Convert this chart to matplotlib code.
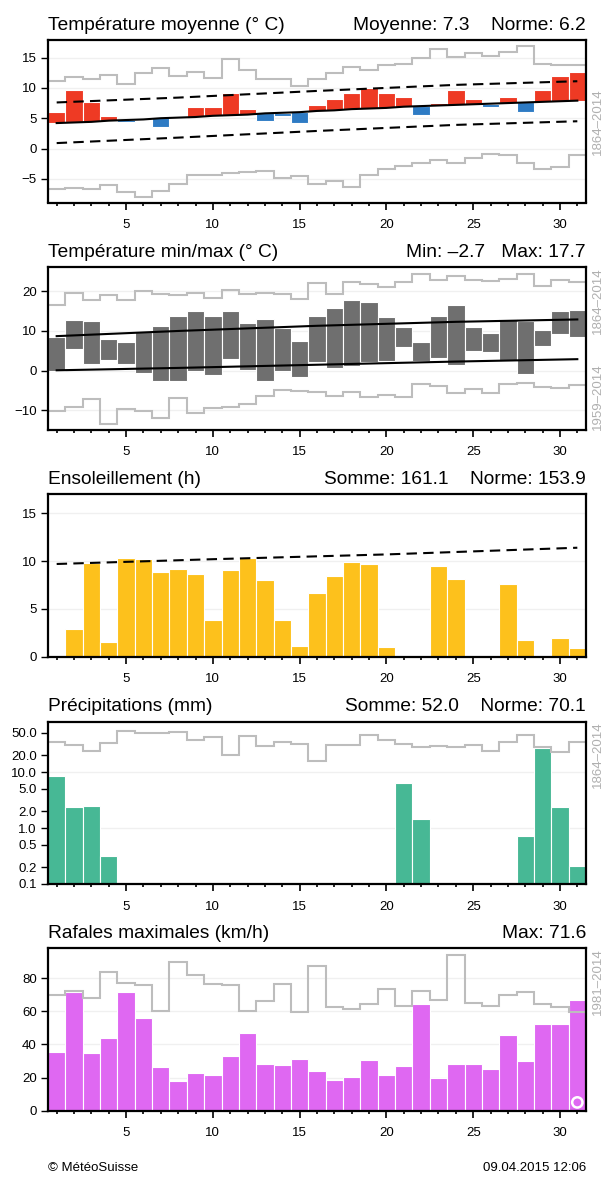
import numpy as np
import matplotlib
matplotlib.use("Agg")
import matplotlib.pyplot as plt
from matplotlib.ticker import FixedLocator, MultipleLocator, NullFormatter

plt.rcParams['font.family'] = ['Liberation Sans', 'DejaVu Sans']

days = np.arange(1, 32)

# ---- Panel 1: mean temperature
tmean = [6.0, 9.6, 7.7, 5.3, 4.3, 4.9, 3.5, 5.3, 6.9, 6.9, 9.1, 6.6, 4.5, 5.4, 4.2,
         7.2, 8.2, 9.2, 10.0, 9.2, 8.5, 5.5, 7.5, 9.7, 8.2, 6.9, 8.5, 6.1, 9.7, 12.0, 12.6]
tmean_norm = [4.2, 4.3, 4.4, 4.6, 4.7, 4.8, 5.0, 5.1, 5.2, 5.4, 5.5, 5.6, 5.8, 5.9, 6.0,
              6.2, 6.3, 6.5, 6.6, 6.7, 6.9, 7.0, 7.1, 7.2, 7.3, 7.4, 7.5, 7.6, 7.7, 7.8, 7.9]
band_days = [1, 8, 16, 24, 31]
tmean_hi = [7.6, 8.4, 9.5, 10.5, 11.1]
tmean_lo = [0.9, 1.8, 2.9, 3.9, 4.5]
tmean_rec_max = [11.1, 11.8, 11.4, 12.1, 10.7, 12.4, 13.2, 12.0, 12.6, 11.6, 14.7, 12.9, 11.5, 11.4, 10.3,
                 11.5, 12.4, 13.4, 12.9, 13.7, 14.0, 15.0, 16.4, 15.1, 15.7, 15.2, 15.9, 16.9, 14.0, 13.8, 13.8]
tmean_rec_min = [-6.6, -6.5, -6.7, -6.0, -7.1, -8.0, -7.0, -5.9, -4.3, -4.3, -4.0, -3.8, -3.7, -4.8, -4.6,
                 -5.9, -5.3, -6.4, -4.3, -3.4, -2.8, -2.4, -1.9, -2.4, -1.5, -0.9, -1.1, -2.4, -3.4, -3.0, -1.1]

# ---- Panel 2: min / max temperature
tmin = [-0.1, 5.5, 1.7, 2.8, 1.8, -0.7, -2.7, -2.5, -0.2, -1.0, 2.9, 0.3, -2.6, -0.2, -1.7,
        2.1, 0.8, 1.3, 2.1, 2.5, 5.9, 2.5, 3.1, 1.5, 4.9, 4.6, 2.8, -0.8, 6.3, 9.2, 8.6]
tmax = [8.6, 12.8, 12.4, 8.0, 7.2, 9.8, 11.2, 13.7, 15.0, 13.7, 15.0, 12.0, 12.9, 10.8, 7.6,
        13.7, 15.7, 17.7, 17.3, 13.6, 10.9, 7.1, 13.7, 16.6, 10.9, 9.4, 13.0, 12.4, 10.3, 15.1, 15.3]
tmax_norm = [8.7, 10.0, 11.3, 12.3, 12.9]
tmin_norm = [0.1, 0.7, 1.5, 2.3, 2.9]
tmax_rec = [16.6, 19.6, 17.8, 19.1, 17.9, 20.0, 19.3, 19.1, 19.6, 18.3, 20.2, 19.3, 19.6, 19.3, 18.1,
            22.0, 19.3, 22.3, 21.7, 21.0, 22.3, 24.4, 22.9, 23.8, 22.9, 22.7, 23.1, 24.4, 21.4, 22.9, 22.3]
tmin_rec = [-10.1, -9.2, -7.0, -13.3, -9.7, -10.1, -11.8, -6.9, -10.7, -9.5, -9.2, -8.4, -6.3, -4.9, -5.2,
            -5.3, -6.3, -5.3, -6.6, -6.1, -6.6, -3.4, -3.8, -5.6, -4.6, -5.7, -3.4, -3.1, -4.0, -4.4, -3.5]

# ---- Panel 3: sunshine
sun = [0.0, 2.9, 9.8, 1.5, 10.3, 10.2, 8.9, 9.2, 8.6, 3.8, 9.1, 10.3, 8.0, 3.8, 1.1,
       6.7, 8.4, 9.9, 9.7, 1.0, 0.0, 0.0, 9.5, 8.1, 0.0, 0.0, 7.6, 1.7, 0.0, 2.0, 0.9]
sun_days = [1, 10, 20, 31]
sun_norm = [9.7, 10.2, 10.7, 11.4]

# ---- Panel 4: precipitation
precip = [8.5, 2.4, 2.5, 0.32, 0, 0, 0, 0, 0, 0, 0, 0, 0, 0, 0,
          0, 0, 0, 0, 0, 6.4, 1.46, 0, 0, 0, 0, 0, 0.73, 27.1, 2.4, 0.21]
precip_rec = [33.8, 30.8, 24.1, 33.0, 55.0, 49.4, 49.4, 53.0, 37.7, 42.0, 20.5, 44.4, 28.7, 33.8, 31.6,
              15.6, 30.8, 30.8, 45.0, 37.7, 32.0, 28.0, 28.7, 27.6, 29.9, 24.1, 33.8, 45.0, 28.0, 22.9, 33.8]
precip_ticks = [0.1, 0.2, 0.5, 1.0, 2.0, 5.0, 10.0, 20.0, 50.0]

# ---- Panel 5: gusts
gust = [35.1, 71.4, 34.5, 43.7, 71.6, 56.1, 26.5, 18.0, 22.8, 21.4, 32.9, 46.9, 28.3, 27.5, 31.1,
        23.8, 18.4, 20.4, 30.3, 21.4, 26.9, 64.1, 19.6, 27.9, 27.9, 25.3, 45.5, 30.1, 52.1, 52.1, 66.9]
gust_rec = [69.9, 72.1, 67.9, 83.6, 77.0, 75.6, 59.9, 89.6, 81.6, 76.6, 76.0, 60.1, 65.9, 76.2, 59.5,
            87.0, 62.5, 61.5, 64.5, 73.1, 63.1, 71.9, 66.5, 93.6, 65.1, 62.9, 69.5, 71.5, 64.1, 62.5, 59.5]
gust_flag_days = [31]

RED = '#EE3A24'
BLUE = '#2E7BC4'
GREY_BAR = '#6F6F6F'
YELLOW = '#FDC11C'
GREEN = '#47B895'
MAGENTA = '#DF68F2'
REC = '#BDBDBD'
LABEL_GREY = '#B0B0B0'

W, H = 608, 1177
fig = plt.figure(figsize=(W / 100, H / 100), dpi=100)

left = 48 / W
width = 538 / W
bottoms_px = [202.5, 429.5, 656.7, 884.0, 1110.7]
AX_H = 162.5
height = AX_H / H
axes = [fig.add_axes([left, 1 - b / H, width, height]) for b in bottoms_px]

edges = np.arange(0.5, 32.5, 1.0)


def style(ax):
    ax.set_xlim(0.5, 31.5)
    ax.xaxis.set_major_locator(FixedLocator([5, 10, 15, 20, 25, 30]))
    ax.xaxis.set_minor_locator(MultipleLocator(1))
    ax.tick_params(axis='x', which='major', length=5, width=1.2, pad=7, labelsize=9.5, direction='out')
    ax.tick_params(axis='x', which='minor', length=2.5, width=1.2, direction='out')
    ax.tick_params(axis='y', which='major', length=5, width=1.0, pad=3, labelsize=9.5, direction='out')
    ax.tick_params(axis='y', which='minor', length=0)
    for s in ax.spines.values():
        s.set_linewidth(1.6)
        s.set_zorder(10)
    ax.grid(axis='y', which='major', color='#F0F0F0', lw=1.0, zorder=0)
    ax.set_axisbelow(True)


def titles(ax, left_txt, right_txt):
    y = 1 + 10.5 / AX_H
    ax.text(0, y, left_txt, transform=ax.transAxes, ha='left', va='baseline', fontsize=13.8)
    ax.text(1, y, right_txt, transform=ax.transAxes, ha='right', va='baseline', fontsize=13.8)


def side_label(ax, txt, y, va):
    ax.text(1.011, y, txt, transform=ax.transAxes, rotation=90, ha='left', va=va,
            fontsize=9.5, color=LABEL_GREY)


# Panel 1
ax = axes[0]
style(ax)
tm = np.array(tmean)
tn = np.array(tmean_norm)
cols = [RED if v >= n else BLUE for v, n in zip(tm, tn)]
ax.bar(days, tm - tn, bottom=tn, width=1.0, color=cols, edgecolor='white', linewidth=0.8, zorder=2)
ax.stairs(tmean_rec_max, edges, baseline=None, color=REC, lw=1.5, zorder=3)
ax.stairs(tmean_rec_min, edges, baseline=None, color=REC, lw=1.5, zorder=3)
ax.plot(days, tn, color='black', lw=1.5, zorder=4)
ax.plot(band_days, tmean_hi, color='black', lw=1.5, ls=(0, (5, 3)), zorder=4)
ax.plot(band_days, tmean_lo, color='black', lw=1.5, ls=(0, (5, 3)), zorder=4)
ax.set_ylim(-8.9, 17.9)
ax.set_yticks([-5, 0, 5, 10, 15])
titles(ax, 'Température moyenne (° C)', 'Moyenne: 7.3    Norme: 6.2')
side_label(ax, '1864–2014', 0.5, 'center')

# Panel 2
ax = axes[1]
style(ax)
lo = np.array(tmin)
hi = np.array(tmax)
ax.bar(days, hi - lo, bottom=lo, width=1.0, color=GREY_BAR, edgecolor='white', linewidth=0.8, zorder=2)
ax.stairs(tmax_rec, edges, baseline=None, color=REC, lw=1.5, zorder=3)
ax.stairs(tmin_rec, edges, baseline=None, color=REC, lw=1.5, zorder=3)
ax.plot(band_days, tmax_norm, color='black', lw=1.5, zorder=4)
ax.plot(band_days, tmin_norm, color='black', lw=1.5, zorder=4)
ax.set_ylim(-14.8, 26.1)
ax.set_yticks([-10, 0, 10, 20])
titles(ax, 'Température min/max (° C)', 'Min: –2.7   Max: 17.7')
side_label(ax, '1864–2014', 1.0, 'top')
side_label(ax, '1959–2014', 0.0, 'bottom')

# Panel 3
ax = axes[2]
style(ax)
ax.bar(days, sun, width=1.0, color=YELLOW, edgecolor='white', linewidth=0.8, zorder=2)
ax.plot(sun_days, sun_norm, color='black', lw=1.5, ls=(0, (5, 3)), zorder=4)
ax.set_ylim(0, 17)
ax.set_yticks([0, 5, 10, 15])
titles(ax, 'Ensoleillement (h)', 'Somme: 161.1    Norme: 153.9')

# Panel 4
ax = axes[3]
style(ax)
ax.set_yscale('log')
pr = np.array(precip, dtype=float)
mask = pr > 0
ax.bar(days[mask], pr[mask] - 0.1, bottom=0.1, width=1.0, color=GREEN, edgecolor='white',
       linewidth=0.8, zorder=2)
ax.stairs(precip_rec, edges, baseline=None, color=REC, lw=1.5, zorder=3)
ax.set_ylim(0.1, 80)
ax.yaxis.set_major_locator(FixedLocator(precip_ticks))
ax.yaxis.set_minor_locator(FixedLocator([]))
ax.yaxis.set_minor_formatter(NullFormatter())
ax.set_yticklabels(['%.1f' % t for t in precip_ticks])
ax.grid(False)
for t in [1.0, 10.0]:
    ax.axhline(t, color='#F0F0F0', lw=1.0, zorder=0)
titles(ax, 'Précipitations (mm)', 'Somme: 52.0    Norme: 70.1')
side_label(ax, '1864–2014', 1.0, 'top')

# Panel 5
ax = axes[4]
style(ax)
ax.bar(days, gust, width=1.0, color=MAGENTA, edgecolor='white', linewidth=0.8, zorder=2)
ax.stairs(gust_rec, edges, baseline=None, color=REC, lw=1.5, zorder=3)
ax.scatter(gust_flag_days, [5] * len(gust_flag_days), s=55, facecolor='none', edgecolor='white',
           linewidth=1.8, zorder=5)
ax.set_ylim(0, 98)
ax.set_yticks([0, 20, 40, 60, 80])
titles(ax, 'Rafales maximales (km/h)', 'Max: 71.6')
side_label(ax, '1981–2014', 1.0, 'top')

fig.text(left, 1 - 1168 / H, '© MétéoSuisse', ha='left', va='center', fontsize=9.5)
fig.text(left + width, 1 - 1168 / H, '09.04.2015 12:06', ha='right', va='center', fontsize=9.5)

fig.savefig('out.png', dpi=100)
